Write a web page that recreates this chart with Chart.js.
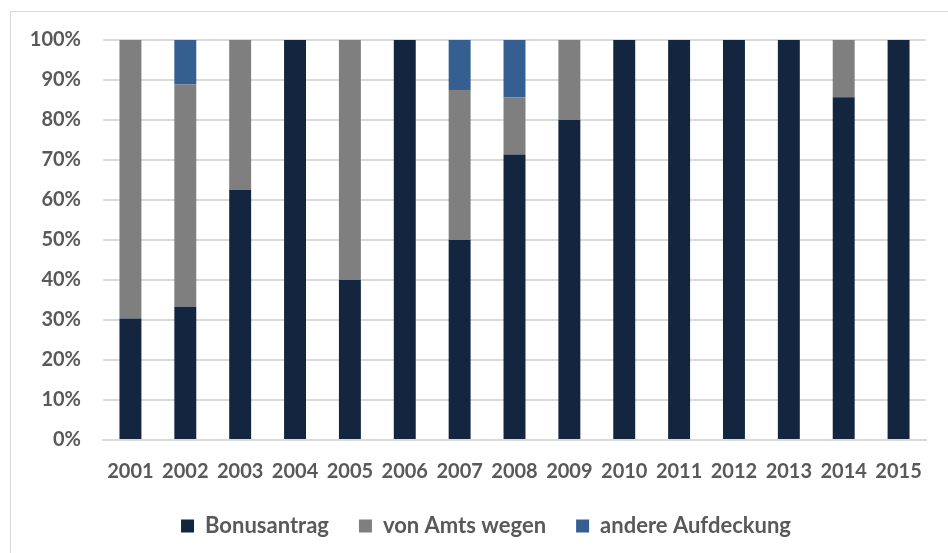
<!DOCTYPE html>
<html>
<head>
<meta charset="utf-8">
<script src="https://cdn.jsdelivr.net/npm/chart.js@4"></script>
<style>
  html, body { margin: 0; padding: 0; background: #fff; }
  #frame {
    position: absolute; left: 10px; top: 11px;
    width: 960px; height: 560px;
    border: 1px solid #d9d9d9;
  }
  #wrap { position: absolute; left: 0; top: 0; width: 948px; height: 553px; }
</style>
</head>
<body>
<div id="frame"></div>
<div id="wrap"><canvas id="chart" width="948" height="553"></canvas></div>
<script>
const years = ['2001', '2002', '2003', '2004', '2005', '2006', '2007', '2008',
               '2009', '2010', '2011', '2012', '2013', '2014', '2015'];
// shares in percent
const bonusantrag = [30.4, 33.3, 62.5, 100, 40, 100, 50, 71.4, 80, 100, 100, 100, 100, 85.7, 100];
const vonAmtsWegen = [69.6, 55.6, 37.5, 0, 60, 0, 37.5, 14.3, 20, 0, 0, 0, 0, 14.3, 0];
const andereAufdeckung = [0, 11.1, 0, 0, 0, 0, 12.5, 14.3, 0, 0, 0, 0, 0, 0, 0];
const yTicks = [0, 10, 20, 30, 40, 50, 60, 70, 80, 90, 100];

const textColor = '#595959';
const font = { family: 'Lato', size: 20, weight: 'bold' };

// legend is centred on the whole frame, not the plot -> nudge it right
const legendShift = {
    id: 'legendShift',
    afterLayout: function(chart) {
        chart.legend.left += 23;
        chart.legend.right += 23;
    }
};

const ctx = document.getElementById('chart').getContext('2d');
new Chart(ctx, {
    type: 'bar',
    data: {
        labels: years,
        datasets: [
            { label: 'Bonusantrag', data: bonusantrag, backgroundColor: '#13253f' },
            { label: 'von Amts wegen', data: vonAmtsWegen, backgroundColor: '#7f7f7f' },
            { label: 'andere Aufdeckung', data: andereAufdeckung, backgroundColor: '#355f91' }
        ]
    },
    plugins: [legendShift],
    options: {
        responsive: false,
        animation: false,
        barPercentage: 0.4,
        categoryPercentage: 1,
        layout: {
            padding: { left: 0, right: 22, top: 40, bottom: 6 }
        },
        plugins: {
            tooltip: { enabled: false },
            legend: {
                position: 'bottom',
                labels: {
                    color: textColor,
                    font: { family: 'Lato', size: 22, weight: 'bold' },
                    boxWidth: 13,
                    boxHeight: 13,
                    padding: 30
                }
            }
        },
        scales: {
            x: {
                stacked: true,
                grid: { display: false },
                border: { color: '#d9d9d9', width: 2 },
                ticks: { color: textColor, font: font, padding: 12, maxRotation: 0 },
                afterFit: function(scale) { scale.height = 45; }
            },
            y: {
                stacked: true,
                min: 0,
                max: 100,
                afterBuildTicks: function(scale) {
                    scale.ticks = yTicks.map(v => ({ value: v }));
                },
                grid: { color: '#d9d9d9', lineWidth: 2, drawTicks: false },
                border: { display: false },
                ticks: {
                    color: textColor,
                    font: font,
                    padding: 22,
                    callback: function(v) { return v + '%'; }
                },
                afterFit: function(scale) { scale.width = 103; }
            }
        }
    }
});
</script>
</body>
</html>
